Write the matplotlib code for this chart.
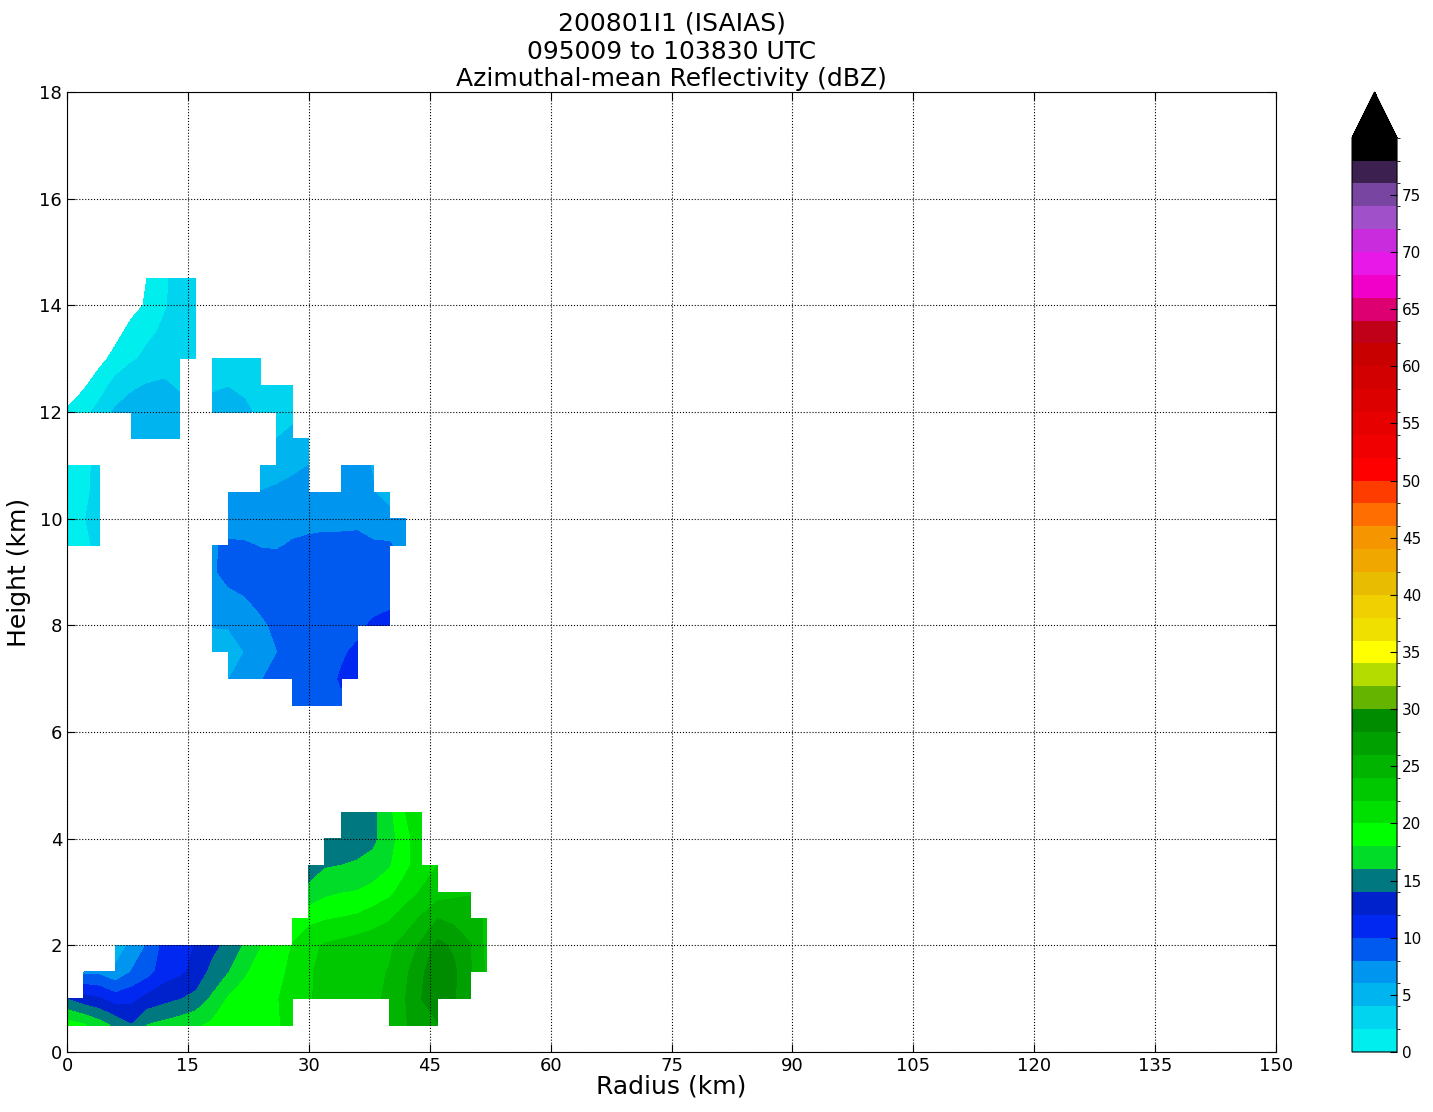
import numpy as np
import matplotlib
matplotlib.use('Agg')
import matplotlib.pyplot as plt
from matplotlib.colors import ListedColormap, BoundaryNorm

n = np.nan

# radius (km) of the data columns and height (km) of the data rows
radius = np.arange(0, 54, 2)
height = np.arange(0.5, 15.0, 0.5)

# azimuthal-mean reflectivity (dBZ), one list per height, columns r = 0..52 km
dbz_rows = {
    14.5: [-5, -4, -3, -2, -1, 0.05, 1.8, 2.5, 2.8] + [n] * 18,
    14.0: [-4, -3, -2, -1.5, -0.5, 0.2, 1.8, 2.6, 3.0] + [n] * 18,
    13.5: [-3.5, -2.5, -1.5, -0.5, 0.5, 1.6, 2.3, 2.8, 3.2] + [n] * 18,
    13.0: [-2.5, -1.5, -0.5, 0.5, 1.7, 2.5, 3.0, 3.4, 3.5, 3.0, 3.2, 3.0, 2.8] + [n] * 14,
    12.5: [-1.5, -0.3, 0.9, 2.8, 3.7, 4.1, 4.3, 3.7, n, 3.8, 3.95, 3.7, 3.2, 3.0, 2.8] + [n] * 12,
    12.0: [0.3, 1.2, 2.8, 4.3, 4.8, 5.0, 5.0, 4.8, n, 4.5, 4.6, 4.3, 3.7, 3.0, 3.5] + [n] * 12,
    11.5: [n, n, n, n, 4.8, 5.0, 5.0, 4.8, n, n, n, n, n, 4.0, 4.5, 5.0] + [n] * 11,
    11.0: [0.5, 1.5, 2.5] + [n] * 9 + [4.8, 5.2, 5.6, 6.0, n, 6.5, 6.5, 5.9] + [n] * 7,
    10.5: [0.5, 1.6, 2.5] + [n] * 7 + [6.5, 6.3, 6.05, 6.3, 6.6, 7.0, 7.0, 7.0, 6.8, 6.05, 5.0] + [n] * 6,
    10.0: [0.6, 1.9, 2.5] + [n] * 7 + [7.0, 7.0, 7.0, 7.2, 7.3, 7.4, 7.5, 7.5, 7.5, 7.2, 6.8, 6.5] + [n] * 5,
    9.5: [0.5, 1.5, 2.5] + [n] * 6 + [7.8, 8.3, 8.2, 7.9, 7.8, 8.2, 8.4, 8.5, 8.5, 8.6, 8.2, 8.2, 7.0] + [n] * 5,
    9.0: [n] * 9 + [7.7, 8.6, 8.8, 8.9, 9.0, 9.2, 9.2, 9.3, 9.4, 9.5, 9.6, 9.7] + [n] * 6,
    8.5: [n] * 9 + [6.8, 7.5, 7.9, 8.4, 8.8, 9.0, 9.1, 9.2, 9.3, 9.4, 9.5, 9.6] + [n] * 6,
    8.0: [n] * 9 + [6.1, 6.1, 6.8, 7.7, 8.3, 8.8, 9.0, 9.2, 9.4, 9.7, 10.2, 10.5] + [n] * 6,
    7.5: [n] * 9 + [5.0, 5.3, 6.0, 7.0, 7.95, 8.8, 9.2, 9.5, 9.85, 10.2] + [n] * 8,
    7.0: [n] * 10 + [5.95, 6.8, 7.9, 8.5, 9.0, 9.3, 9.6, 10.1, 10.5] + [n] * 8,
    6.5: [n] * 14 + [9.0, 9.3, 9.5, 9.8] + [n] * 9,
    6.0: [n] * 27,
    5.5: [n] * 27,
    5.0: [n] * 27,
    4.5: [n] * 17 + [14.5, 14.8, 15.5, 17.5, 20.0, 21.5] + [n] * 4,
    4.0: [n] * 16 + [14.0, 14.3, 14.8, 15.6, 17.0, 19.5, 21.0] + [n] * 4,
    3.5: [n] * 15 + [15.0, 15.8, 16.0, 16.3, 16.6, 17.8, 19.5, 21.0, 22.0] + [n] * 3,
    3.0: [n] * 15 + [16.5, 17.5, 17.9, 18.1, 18.8, 19.5, 21.0, 22.2, 23.0, 23.5, 23.8, n],
    2.5: [n] * 14 + [19.0, 19.4, 19.85, 20.1, 20.4, 21.0, 21.8, 23.0, 24.3, 26.0, 25.5, 25.2, 23.6],
    2.0: [n] * 3 + [5.0, 6.4, 8.2, 10.5, 11.3, 12.1, 13.3, 14.6, 16.2, 17.9, 19.0, 20.1,
                    21.5, 22.2, 22.6, 23.0, 23.4, 23.7, 24.8, 26.4, 28.6, 27.6, 26.1, 23.5],
    1.5: [n, 7.6, 7.5, 6.4, 8.1, 9.2, 11.0, 11.6, 12.6, 14.6, 15.9, 17.7, 18.8, 19.5, 20.4,
          21.8, 22.5, 22.8, 23.2, 23.6, 24.1, 25.6, 27.8, 29.0, 28.4, 26.2, 23.8],
    1.0: [13.9, 12.8, 12.2, 11.0, 11.4, 12.6, 13.3, 13.9, 14.6, 16.3, 18.2, 18.8, 19.3, 19.9, 20.6,
          21.8, 22.6, 22.8, 23.2, 23.7, 24.3, 26.0, 28.0, 28.9, 28.2, 26.0, n],
    0.5: [19.0, 18.3, 17.0, 15.5, 14.1, 16.1, 16.6, 17.1, 17.7, 18.4, 19.0, 19.4, 19.6, 19.8, 20.6,
          n, n, n, n, n, 25.0, 25.8, 27.5, 27.9, n, n, n],
}

levels = np.arange(0, 82, 2)
colors = ['#00eeee', '#00d4ee', '#00b4f0', '#0096f0', '#005af0', '#0028f0', '#0022cc', '#007880',
          '#00dc28', '#00ff00', '#00e000', '#00c800', '#00b400', '#00a000', '#008c00', '#64b400',
          '#b4dc00', '#ffff00', '#f0e000', '#f0d000', '#e8bc00', '#f0a800', '#f59600', '#ff6e00',
          '#ff3c00', '#ff0000', '#f00000', '#e60000', '#dc0000', '#d20000', '#c80000', '#c00018',
          '#dc0070', '#f000c8', '#e818e8', '#c82cdc', '#a050c8', '#7846a0', '#3c2050', '#000000']

grid = np.array([dbz_rows[z] for z in height], dtype=float)
R, Z = np.meshgrid(radius, height)
data = np.ma.masked_invalid(grid)

cmap = ListedColormap(colors)
cmap.set_over('black')
norm = BoundaryNorm(levels, cmap.N)

fig = plt.figure(figsize=(14.33, 11.12), dpi=100)
ax = fig.add_axes([0.04676, 0.05396, 0.8437, 0.8633])
cax = fig.add_axes([0.9435, 0.05396, 0.0314, 0.8633])

cf = ax.contourf(R, Z, data, levels=levels, cmap=cmap, norm=norm, extend='max',
                 corner_mask=False)

ax.set_xlim(0, 150)
ax.set_ylim(0, 18)
ax.set_xticks(np.arange(0, 151, 15))
ax.set_yticks(np.arange(0, 19, 2))
ax.tick_params(direction='in', top=True, right=True, labelsize=13, length=6)
ax.grid(True, color='k', linestyle=':', linewidth=0.8)
ax.set_xlabel('Radius (km)', fontsize=18, labelpad=0)
ax.set_ylabel('Height (km)', fontsize=18, labelpad=6)
ax.set_title('200801I1 (ISAIAS)\n095009 to 103830 UTC\nAzimuthal-mean Reflectivity (dBZ)',
             fontsize=18, linespacing=1.2, pad=4)

cb = fig.colorbar(cf, cax=cax, ticks=np.arange(0, 80, 5))
cb.ax.tick_params(direction='in', labelsize=11, length=5)

fig.savefig('out.png', dpi=100)
